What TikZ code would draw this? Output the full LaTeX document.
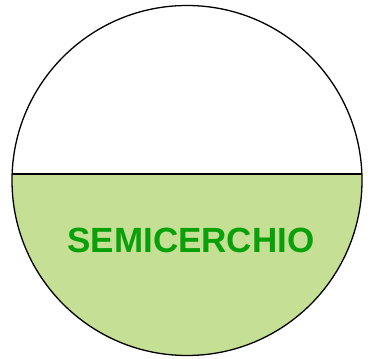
\documentclass[tikz,border=0pt]{standalone}
\usepackage{fontspec}
\setmainfont{Liberation Sans}
\usetikzlibrary{calc}
\definecolor{segfill}{RGB}{197,224,148}
\definecolor{segtext}{RGB}{10,160,10}

\begin{document}
\begin{tikzpicture}[
        x=1pt, y=1pt,
        outline/.style={draw=black, line width=1.3pt},
        label/.style={font=\fontsize{35}{40}\selectfont\bfseries, text=segtext}
    ]
    \useasboundingbox (0,0) rectangle (374,358);

    % centre and chord
    \coordinate (c) at (187,177.5);
    \pgfmathsetmacro{\ang}{asin(6.5/175)}

    % filled segment below the chord
    \fill[segfill] ($(c)+(180-\ang:175)$) arc[start angle=180-\ang, end angle=360+\ang, radius=175] -- cycle;

    % circle and chord
    \draw[outline] (c) circle[radius=175];
    \draw[outline] ($(c)+(180-\ang:175)$) coordinate (chordL) -- ($(c)+(\ang:175)$) coordinate (chordR);

    % label
    \node[label] (name) at (191,117.5) {SEMICERCHIO};
\end{tikzpicture}
\end{document}
